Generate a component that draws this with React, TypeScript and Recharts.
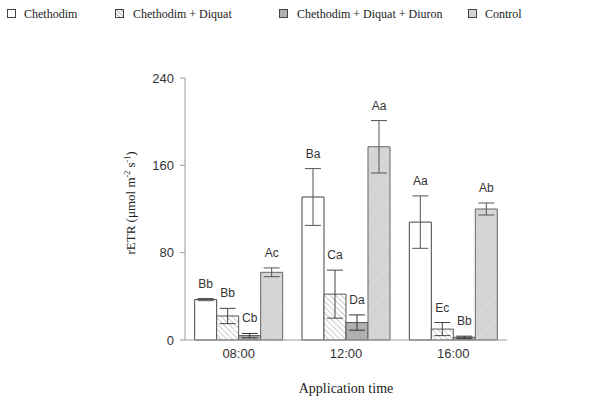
import { Bar, BarChart, ErrorBar, LabelList, XAxis, YAxis } from 'recharts';

const categories = ['08:00', '12:00', '16:00'];
const chethodim = [37, 131, 108];
const chethodimErr = [1, 26, 24];
const diquat = [22, 42, 10];
const diquatErr = [7, 22, 6];
const diuron = [4, 16, 2.5];
const diuronErr = [2, 7, 1];
const control = [62, 177, 120];
const controlErr = [4, 24, 5.5];

const chethodimLetters = ['Bb', 'Ba', 'Aa'];
const diquatLetters = ['Bb', 'Ca', 'Ec'];
const diuronLetters = ['Cb', 'Da', 'Bb'];
const controlLetters = ['Ac', 'Aa', 'Ab'];

const yTicks = [0, 80, 160, 240];

const data = categories.map((time, i) => ({
  time,
  chethodim: chethodim[i],
  chethodimErr: chethodimErr[i],
  diquat: diquat[i],
  diquatErr: diquatErr[i],
  diuron: diuron[i],
  diuronErr: diuronErr[i],
  control: control[i],
  controlErr: controlErr[i],
}));

const sans = '"Liberation Sans", Arial, sans-serif';
const serif = '"Liberation Serif", "Times New Roman", serif';

// letter above the error bar: pixels per unit taken from the bar itself
const letterLabel = (values: number[], errs: number[], letters: string[]) => (props: any) => {
  const { x, y, width, height, index } = props;
  const v = values[index];
  const pxPerUnit = v ? Number(height) / v : 0;
  const top = Number(y) - errs[index] * pxPerUnit;
  return (
    <text
      x={Number(x) + Number(width) / 2}
      y={top - 11}
      textAnchor="middle"
      fontFamily={sans}
      fontSize={12}
      fill="#333"
    >
      {letters[index]}
    </text>
  );
};

const legendItems = [
  { name: 'Chethodim', fill: '#fff', left: 7, textLeft: 24 },
  { name: 'Chethodim + Diquat', fill: 'url(#hatchL)', left: 115, textLeft: 133 },
  { name: 'Chethodim + Diquat + Diuron', fill: '#b0b0b0', left: 279, textLeft: 297 },
  { name: 'Control', fill: '#d4d4d4', left: 468, textLeft: 485 },
];

const YTitle = () => (
  <text
    transform="translate(135,203) rotate(-90)"
    textAnchor="middle"
    fontFamily={serif}
    fontSize={13}
    fill="#222"
  >
    rETR (μmol m
    <tspan fontSize={8} dy={-5}>-2</tspan>
    <tspan dy={5}> s</tspan>
    <tspan fontSize={8} dy={-5}>-1</tspan>
    <tspan dy={5}>)</tspan>
  </text>
);

export default function App() {
  return (
    <div style={{ position: 'fixed', left: 0, top: 0, width: 604, height: 398, background: '#fff' }}>
      <svg width={604} height={30} style={{ position: 'absolute', left: 0, top: 0 }}>
        <defs>
          <pattern id="hatchL" width={3} height={3} patternUnits="userSpaceOnUse" patternTransform="rotate(-45)">
            <rect width={3} height={3} fill="#fff" />
            <line x1={0} y1={0} x2={0} y2={3} stroke="#666" strokeWidth={1} />
          </pattern>
        </defs>
        {legendItems.map((it) => (
          <g key={it.name}>
            <rect x={it.left + 0.5} y={9.5} width={8} height={8} fill={it.fill} stroke="#444" strokeWidth={1} />
            <text x={it.textLeft} y={18} fontFamily={serif} fontSize={12} fill="#222">
              {it.name}
            </text>
          </g>
        ))}
      </svg>
      <div style={{ position: 'absolute', left: 0, top: 0 }}>
        <BarChart
          width={604}
          height={398}
          data={data}
          margin={{ top: 78, right: 97, bottom: 0, left: 130 }}
          barCategoryGap="9%"
          barGap={0}
        >
          <defs>
            <pattern id="hatch" width={4} height={4} patternUnits="userSpaceOnUse" patternTransform="rotate(-45)">
              <rect width={4} height={4} fill="#fff" />
              <line x1={0} y1={0} x2={0} y2={4} stroke="#999" strokeWidth={1} />
            </pattern>
            <pattern id="ctrl" width={16} height={16} patternUnits="userSpaceOnUse" patternTransform="rotate(45)">
              <rect width={16} height={16} fill="#d4d4d4" />
              <line x1={0} y1={0} x2={0} y2={16} stroke="#e6e6e6" strokeWidth={1} />
            </pattern>
          </defs>
          <XAxis
            dataKey="time"
            height={58}
            tickLine={false}
            tickSize={6}
            tickMargin={3}
            axisLine={{ stroke: '#999' }}
            tick={{ fontFamily: sans, fontSize: 13, fill: '#333' }}
            label={{
              value: 'Application time',
              position: 'insideBottom',
              offset: 5,
              style: { fontFamily: serif, fontSize: 14, fill: '#222' },
            }}
          />
          <YAxis
            width={55}
            domain={[0, 240]}
            ticks={yTicks}
            tickSize={5}
            tickMargin={6}
            axisLine={{ stroke: '#999' }}
            tickLine={{ stroke: '#999' }}
            tick={{ fontFamily: sans, fontSize: 13, fill: '#333' }}
            label={{ content: YTitle }}
          />
          <Bar dataKey="chethodim" fill="#fff" stroke="#444" strokeWidth={1} isAnimationActive={false}>
            <ErrorBar dataKey="chethodimErr" width={8} stroke="#555" strokeWidth={1} />
            <LabelList dataKey="chethodim" content={letterLabel(chethodim, chethodimErr, chethodimLetters)} />
          </Bar>
          <Bar dataKey="diquat" fill="url(#hatch)" stroke="#555" strokeWidth={1} isAnimationActive={false}>
            <ErrorBar dataKey="diquatErr" width={8} stroke="#444" strokeWidth={1} />
            <LabelList dataKey="diquat" content={letterLabel(diquat, diquatErr, diquatLetters)} />
          </Bar>
          <Bar dataKey="diuron" fill="#b0b0b0" stroke="#555" strokeWidth={1} isAnimationActive={false}>
            <ErrorBar dataKey="diuronErr" width={8} stroke="#333" strokeWidth={1} />
            <LabelList dataKey="diuron" content={letterLabel(diuron, diuronErr, diuronLetters)} />
          </Bar>
          <Bar dataKey="control" fill="url(#ctrl)" stroke="#666" strokeWidth={1} isAnimationActive={false}>
            <ErrorBar dataKey="controlErr" width={8} stroke="#555" strokeWidth={1} />
            <LabelList dataKey="control" content={letterLabel(control, controlErr, controlLetters)} />
          </Bar>
        </BarChart>
      </div>
    </div>
  );
}
